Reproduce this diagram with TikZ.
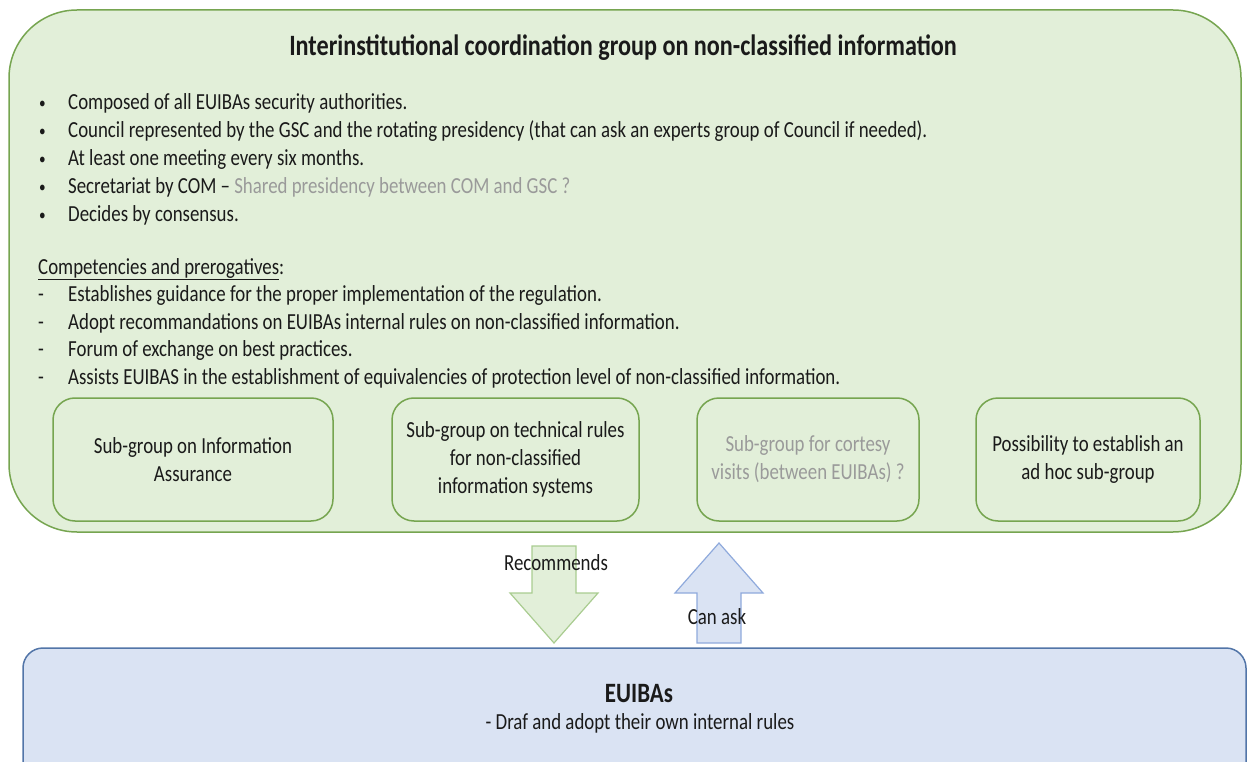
\documentclass[tikz,border=0pt]{standalone}
\usepackage{fontspec}
\setmainfont{Carlito}[FakeStretch=0.82]
\definecolor{grpfill}{HTML}{E2EFD9}
\definecolor{grpline}{HTML}{76A550}
\definecolor{euifill}{HTML}{DAE3F3}
\definecolor{euiline}{HTML}{5275A8}
\definecolor{recline}{HTML}{A9CC90}
\definecolor{askline}{HTML}{8FAADC}
\definecolor{txt}{HTML}{1A1A1A}
\definecolor{faded}{HTML}{9A9A9A}
\tikzset{
  item/.style={anchor=base west, inner sep=0pt, text=txt, font=\fontsize{23}{28}\selectfont},
  subbox/.style={draw=grpline, line width=1.5pt, fill=grpfill, rounded corners=22pt,
    minimum height=123pt, align=center, text=txt, font=\fontsize{23}{28}\selectfont},
  flowlabel/.style={text=txt, inner sep=0pt, font=\fontsize{23}{28}\selectfont}
}
\newcommand{\bul}{\makebox[30pt][l]{\hspace{1pt}\raisebox{1.5pt}{\scalebox{0.7}{\textbullet}}}}
\newcommand{\dsh}{\makebox[30pt][l]{-}}
\begin{document}
\begin{tikzpicture}[x=1pt,y=-1pt]
      \useasboundingbox (0,0) rectangle (1248,762);
      \clip (0,0) rectangle (1248,762);
      % the two large boxes
      \node[draw=grpline, line width=1.5pt, fill=grpfill, rounded corners=68pt,
        minimum width=1232pt, minimum height=522pt] (group) at (625,271) {};
      \node[draw=euiline, line width=1.5pt, fill=euifill, rounded corners=20pt,
        minimum width=1223pt, minimum height=140pt] (euibas) at (634.5,718) {};
      \node[text=txt, font=\bfseries\fontsize{29.5}{32}\selectfont] (title) at (623,48)
        {Interinstitutional coordination group on non-classified information};
      \path
        (38,110) node[item] (b1) {\bul Composed of all EUIBAs security authorities.}
        (38,138) node[item] (b2) {\bul Council represented by the GSC and the rotating presidency (that can ask an experts group of Council if needed).}
        (38,166) node[item] (b3) {\bul At least one meeting every six months.}
        (38,194) node[item] (b4) {\bul Secretariat by COM -- \textcolor{faded}{Shared presidency between COM and GSC ?}}
        (38,222) node[item] (b5) {\bul Decides by consensus.}
        (38,274) node[item] (comp) {\underline{Competencies and prerogatives}:}
        (38,301.5) node[item] (c1) {\dsh Establishes guidance for the proper implementation of the regulation.}
        (38,329) node[item] (c2) {\dsh Adopt recommandations on EUIBAs internal rules on non-classified information.}
        (38,356.5) node[item] (c3) {\dsh Forum of exchange on best practices.}
        (38,384) node[item] (c4) {\dsh Assists EUIBAS in the establishment of equivalencies of protection level of non-classified information.};
      % sub-groups
      \node[subbox, minimum width=280pt] (sg1) at (193,459.5) {Sub-group on Information\\Assurance};
      \node[subbox, minimum width=247pt] (sg2) at (515.5,459.5) {Sub-group on technical rules\\for non-classified\\information systems};
      \node[subbox, minimum width=222pt, text=faded] (sg3) at (808,459.5) {Sub-group for cortesy\\visits (between EUIBAs) ?};
      \node[subbox, minimum width=224pt] (sg4) at (1088,459.5) {Possibility to establish an\\ad hoc sub-group};
      % block arrows
      \begin{scope}[line width=1.2pt, line join=miter]
        \draw[draw=recline, fill=grpfill] (532,546) -- (576,546) -- (576,593) -- (598,593)
          -- (554,643) -- (510,593) -- (532,593) -- cycle;
        \draw[draw=askline, fill=euifill] (697,643) -- (741,643) -- (741,593) -- (763,593)
          -- (719,543) -- (675,593) -- (697,593) -- cycle;
      \end{scope}
      \node[flowlabel] (recommends) at (556,563) {Recommends};
      \node[flowlabel] (canask) at (717,617) {Can ask};
      \node[text=txt, inner sep=0pt, font=\bfseries\fontsize{28}{32}\selectfont] (euititle) at (639,694) {EUIBAs};
      \node[flowlabel] (euirule) at (640,723) {- Draf and adopt their own internal rules};
    \end{tikzpicture}
\end{document}
